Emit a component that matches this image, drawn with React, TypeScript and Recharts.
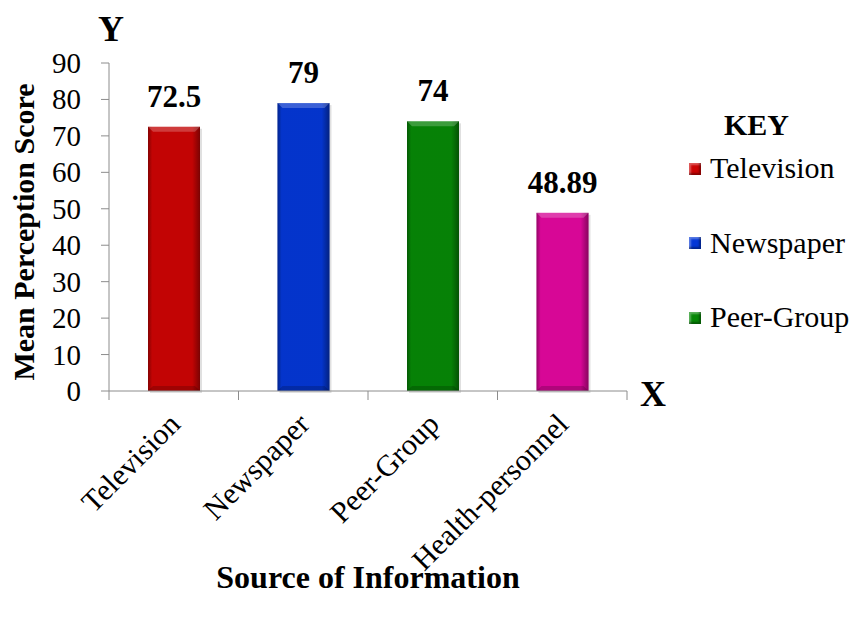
import React from 'react'
import {BarChart, Bar, XAxis, YAxis, LabelList, Cell} from 'recharts'

const categories: string[] = ['Television', 'Newspaper', 'Peer-Group', 'Health-personnel']
const scores: number[] = [72.5, 79, 74, 48.89]
const scoreLabels: string[] = ['72.5', '79', '74', '48.89']
const barColors: string[] = ['#cc0404', '#0437d6', '#068806', '#e2079e']
const yTicks: number[] = [0, 10, 20, 30, 40, 50, 60, 70, 80, 90]
const legendItems: string[] = ['Television', 'Newspaper', 'Peer-Group']

const data = categories.map((name, i) => ({name, score: scores[i], label: scoreLabels[i]}))

const FONT = '"Liberation Serif", "Times New Roman", serif'
const AXIS_GREY = '#8c8c8c'

// bevelled bar like the office chart style
const BevelBar = (props: any) => {
  const {x, y, width, height, fill, index} = props
  if (!height || height <= 0) return null
  const b = 5
  const id = `g${index}`
  return (
    <g>
      <defs>
        <linearGradient id={id} x1='0' y1='0' x2='1' y2='0'>
          <stop offset='0%' stopColor='#000' stopOpacity={0.35} />
          <stop offset='8%' stopColor='#000' stopOpacity={0.05} />
          <stop offset='85%' stopColor='#000' stopOpacity={0.05} />
          <stop offset='100%' stopColor='#000' stopOpacity={0.4} />
        </linearGradient>
      </defs>
      <rect x={x + 2} y={y + 2} width={width} height={height} fill='#000' opacity={0.12} />
      <rect x={x} y={y} width={width} height={height} fill={fill} />
      <rect x={x} y={y} width={width} height={height} fill={`url(#${id})`} />
      <polygon
        points={`${x},${y} ${x + width},${y} ${x + width - b},${y + b} ${x + b},${y + b}`}
        fill='#fff'
        opacity={0.22}
      />
      <polygon
        points={`${x},${y + height} ${x + width},${y + height} ${x + width - b},${y + height - b} ${x + b},${y + height - b}`}
        fill='#000'
        opacity={0.18}
      />
    </g>
  )
}

// category label plus the tick marks that sit on the category boundaries
const XTick = (props: any) => {
  const {x, y, payload, index, visibleTicksCount} = props
  const half = payload && payload.offset > 0 ? payload.offset : 64.75
  const ax = x + 8
  const ay = y + 35
  const isLast = index === (visibleTicksCount ?? categories.length) - 1
  return (
    <g>
      <line x1={x - half} y1={y} x2={x - half} y2={y + 9} stroke={AXIS_GREY} />
      {isLast && <line x1={x + half} y1={y} x2={x + half} y2={y + 9} stroke={AXIS_GREY} />}
      <text
        x={ax}
        y={ay}
        transform={`rotate(-45 ${ax} ${ay})`}
        textAnchor='end'
        fontFamily={FONT}
        fontSize={30}
        fill='#000'
      >
        {payload.value}
      </text>
    </g>
  )
}

const YTick = (props: any) => {
  const {y, payload} = props
  return (
    <text x={81} y={y} textAnchor='end' dominantBaseline='central' fontFamily={FONT} fontSize={29} fill='#000'>
      {payload.value}
    </text>
  )
}

const App: React.FC = () => {
  return (
    <div style={{position: 'absolute', left: 0, top: 0, width: 856, height: 617, background: '#fff'}}>
      <BarChart width={856} height={617} data={data} margin={{top: 63, right: 229, left: 0, bottom: 0}}>
        <XAxis
          dataKey='name'
          height={226}
          interval={0}
          stroke={AXIS_GREY}
          tickLine={false}
          tickSize={0}
          tickMargin={0}
          tick={<XTick />}
          label={{
            value: 'Source of Information',
            position: 'insideBottom',
            offset: 29,
            style: {fontFamily: FONT, fontSize: 32, fontWeight: 'bold', fill: '#000'}
          }}
        />
        <YAxis
          width={109}
          domain={[0, 90]}
          ticks={yTicks}
          interval={0}
          stroke={AXIS_GREY}
          tickSize={8}
          tick={<YTick />}
          label={{
            content: () => (
              <text
                x={23}
                y={232}
                transform='rotate(-90 23 232)'
                textAnchor='middle'
                dominantBaseline='central'
                fontFamily={FONT}
                fontSize={30}
                fontWeight='bold'
                fill='#000'
              >
                Mean Perception Score
              </text>
            )
          }}
        />
        <Bar dataKey='score' barSize={52} shape={<BevelBar />} isAnimationActive={false}>
          {data.map((d, i) => (
            <Cell key={d.name} fill={barColors[i]} />
          ))}
          <LabelList
            dataKey='label'
            position='top'
            offset={20}
            style={{fontFamily: FONT, fontSize: 31, fontWeight: 'bold', fill: '#000'}}
          />
        </Bar>
      </BarChart>

      <div
        style={{
          position: 'absolute',
          left: 98,
          top: 11,
          fontFamily: FONT,
          fontSize: 36,
          fontWeight: 'bold',
          lineHeight: '36px'
        }}
      >
        Y
      </div>
      <div
        style={{
          position: 'absolute',
          left: 640,
          top: 376,
          fontFamily: FONT,
          fontSize: 36,
          fontWeight: 'bold',
          lineHeight: '36px'
        }}
      >
        X
      </div>

      <div
        style={{
          position: 'absolute',
          left: 724,
          top: 110,
          fontFamily: FONT,
          fontSize: 30,
          fontWeight: 'bold',
          lineHeight: '30px'
        }}
      >
        KEY
      </div>
      {legendItems.map((name, i) => (
        <div
          key={name}
          style={{
            position: 'absolute',
            left: 689,
            top: 153 + i * 74.5,
            display: 'flex',
            alignItems: 'center',
            fontFamily: FONT,
            fontSize: 30,
            lineHeight: '30px',
            whiteSpace: 'nowrap'
          }}
        >
          <span
            style={{
              display: 'inline-block',
              width: 12,
              height: 12,
              marginRight: 9,
              marginTop: 1,
              background: barColors[i],
              boxShadow: 'inset -2px -2px 2px rgba(0,0,0,0.35), inset 2px 2px 2px rgba(255,255,255,0.35)'
            }}
          />
          {name}
        </div>
      ))}
    </div>
  )
}

export default App
